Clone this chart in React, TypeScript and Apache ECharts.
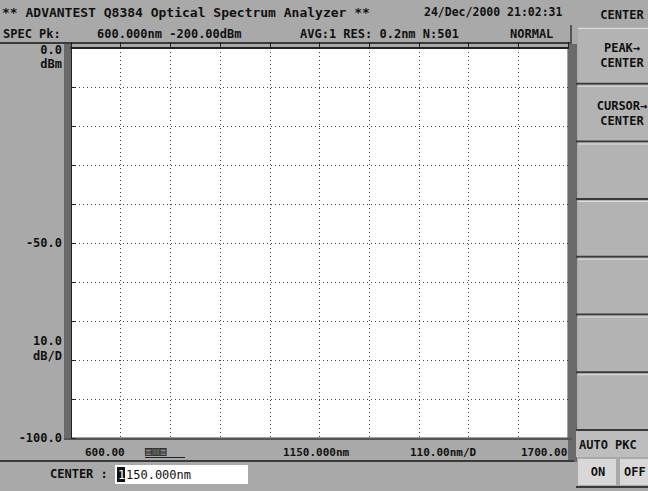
import React, { useEffect, useRef } from "react";
import * as echarts from "echarts";

const headerTitle = "** ADVANTEST Q8384 Optical Spectrum Analyzer **";
const headerDate = "24/Dec/2000 21:02:31";
const peakLabel = "SPEC Pk:";
const peakValue = "600.000nm -200.00dBm";
const sweepInfo = "AVG:1 RES: 0.2nm N:501";
const modeLabel = "NORMAL";

const xTicks = [600, 710, 820, 930, 1040, 1150, 1260, 1370, 1480, 1590, 1700];
const startLabel = "600.00";
const centerLabel = "1150.000nm";
const spanLabel = "110.00nm/D";
const stopLabel = "1700.00";

const yMin = -100;
const yMax = 0;
const yStep = 10;
const refLevel = { value: 0, text: "0.0", unit: "dBm" };
const midLevel = { value: -50, text: "-50.0" };
const scaleLevel = { value: -80, text: "10.0", unit: "dB/D" };
const bottomLevel = { value: -100, text: "-100.0" };

const trace: [string, number][] = [];

const softkeyTitle = "CENTER";
const softkeys = ["PEAK→\nCENTER", "CURSOR→\nCENTER", "", "", "", "", ""];
const autoKey = "AUTO PKC";
const onOff = ["ON", "OFF"];
const entryLabel = "CENTER :";
const entryValue = "1150.000nm";

const MONO = "DejaVu Sans Mono";
const BG = "#a9a9a9";
const DARK = "#3a3a3a";

export default function App() {
  const ref = useRef<HTMLDivElement>(null);
  useEffect(() => {
    if (!ref.current) return;
    const chart = echarts.init(ref.current, null, { renderer: "svg" });
    const gridLeft = 71, gridTop = 48, gridRight = 80, gridBottom = 53;
    chart.setOption({
      animation: false,
      backgroundColor: BG,
      grid: {
        left: gridLeft, top: gridTop, right: gridRight, bottom: gridBottom,
        show: true, backgroundColor: "#ffffff", borderColor: "#444", borderWidth: 1,
      },
      xAxis: {
        type: "category",
        data: xTicks.map(String),
        boundaryGap: false,
        axisLine: { show: true, lineStyle: { color: "#222", width: 2 } },
        axisTick: { show: true, inside: true, length: 6, interval: 0, lineStyle: { color: "#222" } },
        axisLabel: { show: false },
        splitLine: { show: true, interval: 0, lineStyle: { color: "#444", type: [1, 3], width: 1 } },
      },
      yAxis: {
        type: "value",
        min: yMin, max: yMax, interval: yStep,
        axisLine: { show: true, lineStyle: { color: "#222", width: 1 } },
        axisTick: { show: true, inside: true, length: 5, lineStyle: { color: "#222" } },
        axisLabel: { show: false },
        splitLine: { show: true, lineStyle: { color: "#444", type: [1, 3], width: 1 } },
      },
      series: [{ type: "line", data: trace, showSymbol: false, lineStyle: { color: "#000", width: 1 } }],
    });

    const yPix = (v: number) => chart.convertToPixel({ yAxisIndex: 0 }, v) as number;
    const txt = (text: string, x: number, y: number, size = 12, align = "left", fill = "#111", weight = "bold") => ({
      type: "text", x, y, z: 10,
      style: { text, fill, font: `${weight} ${size}px "${MONO}"`, align, verticalAlign: "middle" },
    });

    const g: any[] = [];
    // header
    g.push(txt(headerTitle, 2, 12, 13));
    g.push(txt(headerDate, 424, 12, 11.5));
    g.push(txt(softkeyTitle, 622, 15, 12, "center"));
    g.push(txt(peakLabel, 3, 34, 12));
    g.push(txt(peakValue, 97, 34, 12));
    g.push(txt(sweepInfo, 300, 34, 12));
    g.push(txt(modeLabel, 510, 34, 12));
    g.push({ type: "rect", shape: { x: 0, y: 42, width: 572, height: 2 }, style: { fill: DARK } });
    g.push({ type: "rect", shape: { x: 570, y: 25, width: 2, height: 19 }, style: { fill: "#555" } });
    // plot side strips
    g.push({ type: "rect", shape: { x: 64, y: 44, width: 7, height: 396 }, style: { fill: "#6a6a6a" } });
    g.push({ type: "rect", shape: { x: 568, y: 44, width: 9, height: 418 }, style: { fill: "#6a6a6a" } });
    g.push({ type: "rect", shape: { x: 64, y: 438, width: 508, height: 2 }, style: { fill: "#555" } });
    // y labels
    const yr = yPix(refLevel.value);
    g.push(txt(refLevel.text, 62, yr + 2, 12, "right"));
    g.push(txt(refLevel.unit, 62, yr + 16, 12, "right"));
    g.push(txt(midLevel.text, 62, yPix(midLevel.value), 12, "right"));
    const ys = yPix(scaleLevel.value);
    g.push(txt(scaleLevel.text, 62, ys - 19, 12, "right"));
    g.push(txt(scaleLevel.unit, 62, ys - 4, 12, "right"));
    g.push(txt(bottomLevel.text, 62, yPix(bottomLevel.value), 12, "right"));
    // x footer labels
    g.push(txt(startLabel, 85, 452, 11));
    g.push(txt("▤▥▤", 145, 451, 12));
    g.push({ type: "rect", shape: { x: 145, y: 457, width: 40, height: 1 }, style: { fill: "#222" } });
    g.push(txt(centerLabel, 283, 452, 11));
    g.push(txt(spanLabel, 410, 452, 11));
    g.push(txt(stopLabel, 521, 452, 11));
    // bottom entry
    g.push({ type: "rect", shape: { x: 0, y: 460, width: 574, height: 2 }, style: { fill: DARK } });
    g.push(txt(entryLabel, 50, 474, 12));
    g.push({ type: "rect", shape: { x: 115, y: 465, width: 133, height: 19 }, style: { fill: "#ffffff" } });
    g.push({ type: "rect", shape: { x: 117, y: 467, width: 8, height: 15 }, style: { fill: "#111" }, z: 11 });
    g.push({
      type: "text", x: 118, y: 475, z: 13,
      style: { text: entryValue.charAt(0), fill: "#fff", font: `12px "${MONO}"`, align: "left", verticalAlign: "middle" },
    });
    g.push({
      type: "text", x: 126, y: 475, z: 12,
      style: { text: entryValue.slice(1), fill: "#111", font: `12px "${MONO}"`, align: "left", verticalAlign: "middle" },
    });
    // softkeys
    const keyTop = 27, keyH = 57.7;
    softkeys.forEach((label, i) => {
      const top = keyTop + i * keyH;
      g.push({ type: "rect", shape: { x: 578, y: top, width: 70, height: keyH }, style: { fill: "#b3b3b3" } });
      g.push({ type: "rect", shape: { x: 578, y: top + 1, width: 70, height: 1 }, style: { fill: "#dcdcdc" } });
      g.push({ type: "rect", shape: { x: 576, y: top + keyH - 2, width: 72, height: 2 }, style: { fill: DARK } });
      if (label) {
        const lines = label.split("\n");
        lines.forEach((ln, j) => {
          g.push(txt(ln, 622, top + keyH / 2 - 8 + j * 15, 12, "center"));
        });
      }
    });
    const autoTop = keyTop + softkeys.length * keyH;
    g.push({ type: "rect", shape: { x: 576, y: autoTop, width: 72, height: 26 }, style: { fill: "#bdbdbd" } });
    g.push(txt(autoKey, 579, autoTop + 14, 12));
    g.push({ type: "rect", shape: { x: 578, y: autoTop + 28, width: 38, height: 26 }, style: { fill: "#d8d8d8" } });
    g.push({ type: "rect", shape: { x: 620, y: autoTop + 28, width: 28, height: 26 }, style: { fill: "#d8d8d8" } });
    g.push(txt(onOff[0], 598, autoTop + 41, 12, "center"));
    g.push(txt(onOff[1], 624, autoTop + 41, 12));
    g.push({ type: "rect", shape: { x: 576, y: autoTop + 55, width: 72, height: 2 }, style: { fill: DARK } });

    chart.setOption({ graphic: g });
    return () => chart.dispose();
  }, []);
  return <div ref={ref} style={{ position: "fixed", left: 0, top: 0, width: 648, height: 491 }} />;
}
